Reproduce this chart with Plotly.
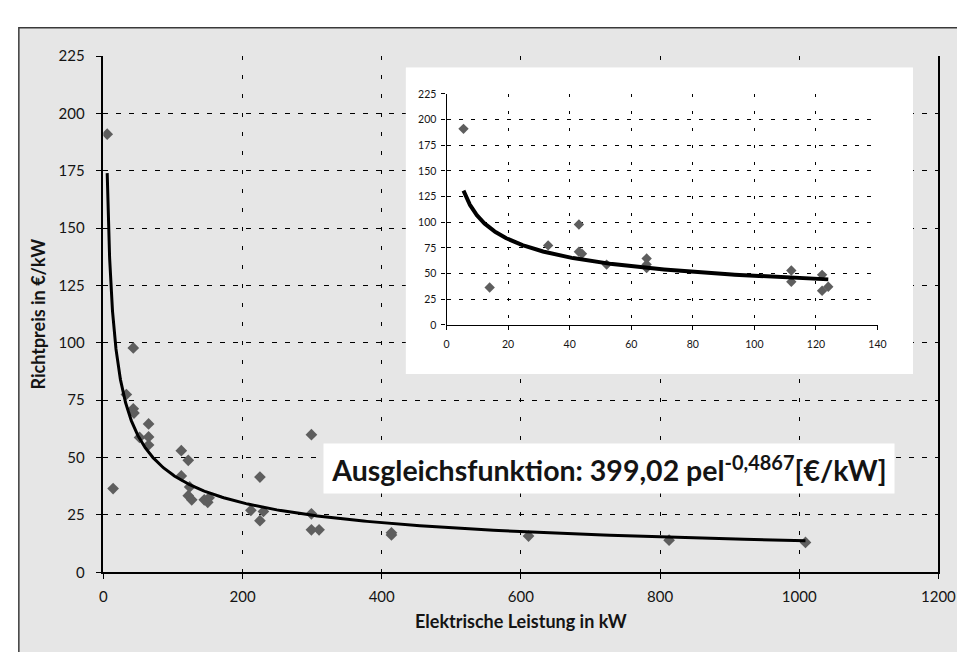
import numpy as np
import plotly.graph_objects as go

# ---------------- data ----------------
leistung_kw = [5.5, 14, 33, 43, 43, 44, 52, 65, 65, 65, 112, 112, 122, 122, 124,
               127, 145, 150, 152, 212, 225, 225, 230, 299, 299, 299, 310,
               414, 414, 611, 813, 1009]
richtpreis = [191, 36.5, 77.5, 97.8, 71.3, 69.4, 58.8, 64.7, 59, 55.5, 53, 42, 48.8, 33.4, 37.2,
              31.6, 31.6, 30.5, 32.5, 27, 41.5, 22.5, 26.5, 60, 25.5, 18.5, 18.5,
              16.3, 17.2, 15.8, 14, 13]

# trend function stated in the chart: 399,02 * pel^-0,4867
fit_factor = 399.02
fit_exponent = -0.4867

inset_max_kw = 125          # inset shows only the small plants

main_x_ticks = [0, 200, 400, 600, 800, 1000, 1200]
y_ticks = [0, 25, 50, 75, 100, 125, 150, 175, 200, 225]
inset_x_ticks = [0, 20, 40, 60, 80, 100, 120, 140]

formula_text = "Ausgleichsfunktion: 399,02 pel<sup>-0,4867</sup>[€/kW]"
x_title = "Elektrische Leistung in kW"
y_title = "Richtpreis in €/kW"

# ---------------- layout helpers ----------------
W, H = 965, 652
def fx(p):
    return p / W
def fy(p):
    return 1 - p / H

FONT = "Lato"
MARK = "#5e5e5e"
BG = "#e6e6e6"
TXT = "#141414"

fig = go.Figure()

# main chart
fig.add_trace(go.Scatter(x=leistung_kw, y=richtpreis, mode="markers",
                         marker=dict(symbol="diamond", size=9, color=MARK, line=dict(width=0)),
                         xaxis="x", yaxis="y", showlegend=False, hoverinfo="skip"))
xs = np.geomspace(min(leistung_kw), max(leistung_kw), 400)
fig.add_trace(go.Scatter(x=xs, y=fit_factor * xs ** fit_exponent, mode="lines",
                         line=dict(color="black", width=3),
                         xaxis="x", yaxis="y", showlegend=False, hoverinfo="skip"))

# white panel subplot for the inset (empty)
fig.add_trace(go.Scatter(x=[], y=[], xaxis="x2", yaxis="y2", showlegend=False, hoverinfo="skip"))

# inset
ins_x = np.array([x for x in leistung_kw if x <= inset_max_kw])
ins_y = np.array([y for x, y in zip(leistung_kw, richtpreis) if x <= inset_max_kw])
fig.add_trace(go.Scatter(x=ins_x, y=ins_y, mode="markers",
                         marker=dict(symbol="diamond", size=8, color=MARK, line=dict(width=0)),
                         xaxis="x3", yaxis="y3", showlegend=False, hoverinfo="skip"))
# power trendline (least squares in log-log space, like the spreadsheet trendline)
b_ins, lna_ins = np.polyfit(np.log(ins_x), np.log(ins_y), 1)
xi = np.geomspace(ins_x.min(), ins_x.max(), 300)
fig.add_trace(go.Scatter(x=xi, y=np.exp(lna_ins) * xi ** b_ins, mode="lines",
                         line=dict(color="black", width=4),
                         xaxis="x3", yaxis="y3", showlegend=False, hoverinfo="skip"))

tickfont_main = dict(family=FONT, size=15, color=TXT)
tickfont_ins = dict(family=FONT, size=10.5, color=TXT)

fig.update_layout(
    width=W, height=H,
    margin=dict(l=0, r=0, t=0, b=0),
    paper_bgcolor="white",
    plot_bgcolor="white",
    xaxis=dict(domain=[fx(93.5), fx(948)], range=[0, 1200], tickvals=main_x_ticks,
               showline=True, linecolor="black", linewidth=1.5, mirror=False,
               ticks="outside", ticklen=5, tickcolor="black", tickwidth=1.2,
               ticklabelstandoff=5,
               showgrid=True, gridcolor="black", gridwidth=1, griddash="4px,15px",
               zeroline=False, tickfont=tickfont_main,
               title=dict(text="<b>" + x_title + "</b>", font=dict(family=FONT, size=18, color=TXT),
                          standoff=11),
               anchor="y"),
    yaxis=dict(domain=[fy(570), fy(39.3)], range=[0, 225], tickvals=y_ticks,
               showline=True, linecolor="black", linewidth=1.5, mirror=True,
               ticks="outside", ticklen=6, tickcolor="black", tickwidth=1.2,
               ticklabelstandoff=8,
               showgrid=True, gridcolor="black", gridwidth=1, griddash="5px,8px",
               zeroline=False, tickfont=tickfont_main,
               title=dict(text="<b>" + y_title + "</b>", font=dict(family=FONT, size=18, color=TXT),
                          standoff=8),
               anchor="x"),
    xaxis2=dict(domain=[fx(403), fx(922)], range=[0, 1], visible=False, anchor="y2"),
    yaxis2=dict(domain=[fy(366), fy(51)], range=[0, 1], visible=False, anchor="x2"),
    xaxis3=dict(domain=[fx(444.7), fx(885.7)], range=[0, 140], tickvals=inset_x_ticks,
                showline=True, linecolor="black", linewidth=1.2,
                ticks="outside", ticklen=4, tickcolor="black", tickwidth=1,
                ticklabelstandoff=5,
                showgrid=True, gridcolor="black", gridwidth=1, griddash="3px,14px",
                zeroline=False, tickfont=tickfont_ins, anchor="y3"),
    yaxis3=dict(domain=[fy(315.7), fy(78.1)], range=[0, 225], tickvals=y_ticks,
                showline=True, linecolor="black", linewidth=1.2,
                ticks="outside", ticklen=4, tickcolor="black", tickwidth=1,
                ticklabelstandoff=3,
                showgrid=True, gridcolor="black", gridwidth=1, griddash="4px,8px",
                zeroline=False, tickfont=tickfont_ins, anchor="x3"),
    shapes=[
        # grey outer frame
        dict(type="rect", xref="paper", yref="paper", x0=fx(7), x1=1.05, y0=-0.05, y1=fy(10),
             fillcolor=BG, line=dict(color="#3a3a3a", width=1.5), layer="below"),
        # white inset panel
        dict(type="rect", xref="x2", yref="y2", x0=0, x1=1, y0=0, y1=1,
             fillcolor="white", line=dict(width=0), layer="below"),
    ],
    annotations=[
        dict(text="<b>" + formula_text + "</b>", xref="paper", yref="paper",
             x=fx(611), y=fy(463.5), xanchor="center", yanchor="middle",
             showarrow=False, bgcolor="white", width=566, height=45, borderpad=2,
             font=dict(family=FONT, size=28.5, color=TXT)),
    ],
)

fig.write_html("out.html")
